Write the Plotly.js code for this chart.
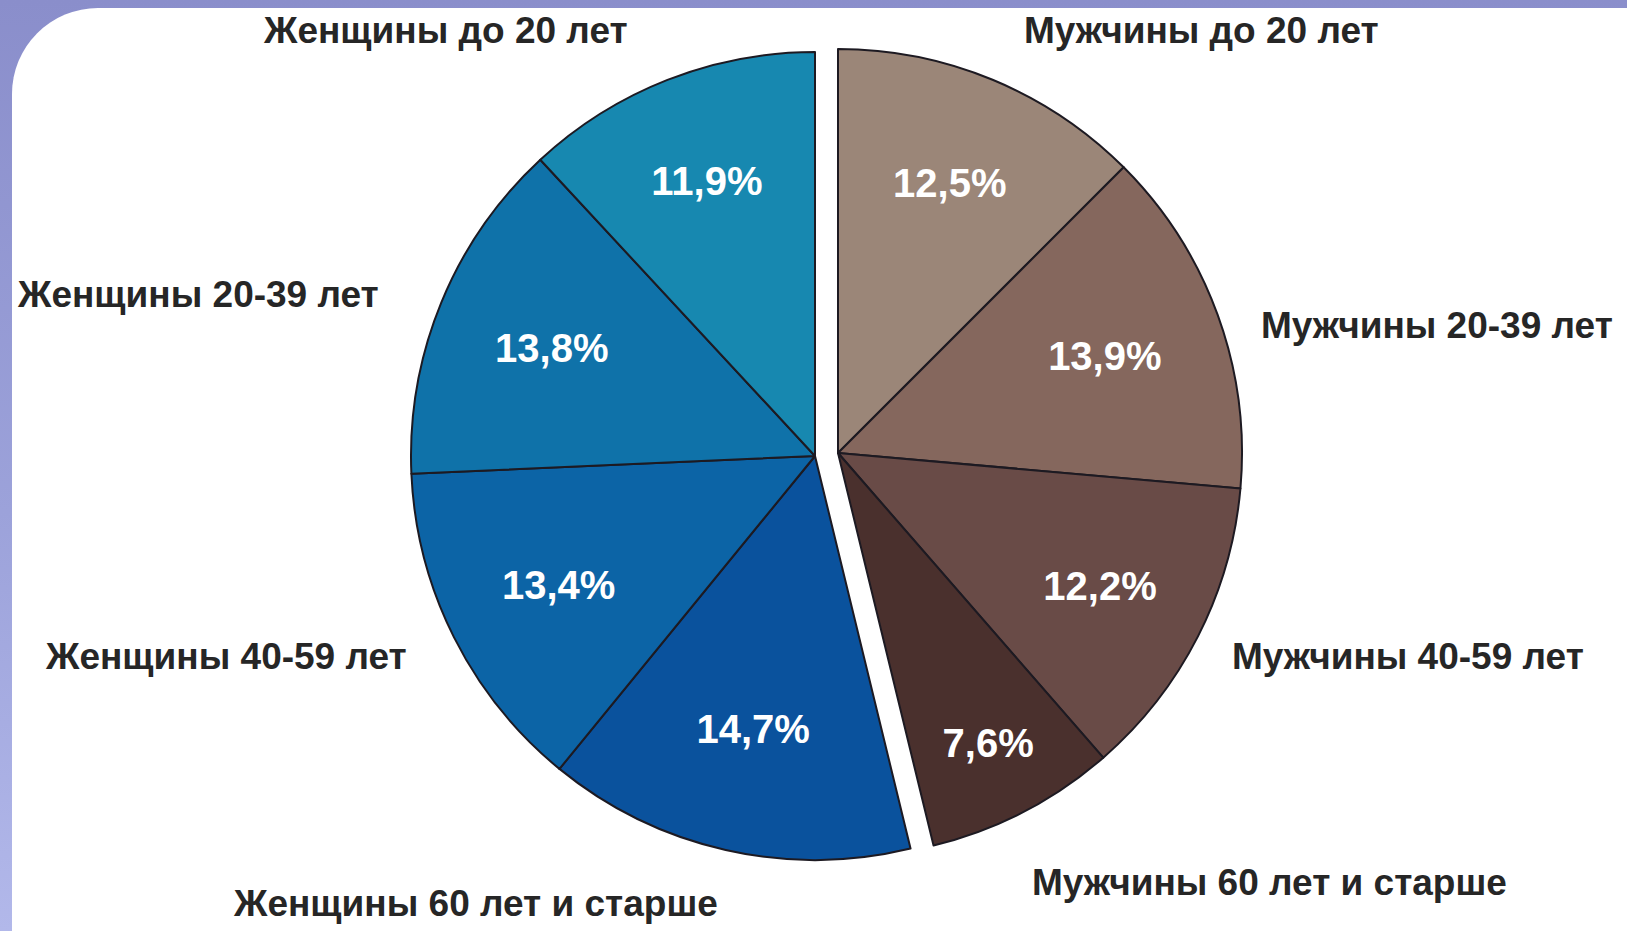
<!DOCTYPE html>
<html><head><meta charset="utf-8">
<script src="https://cdn.plot.ly/plotly-3.0.1.min.js"></script>
<style>
html,body{margin:0;padding:0;width:1627px;height:931px;overflow:hidden;}
body{background:linear-gradient(to bottom,#8A8ECB 0%,#9CA2DA 55%,#B2B8EA 100%);position:relative;}
#card{position:absolute;left:12px;top:8px;right:0;bottom:0;background:#fff;border-top-left-radius:86px;}
#chart{position:absolute;left:0;top:0;width:1627px;height:931px;}
</style></head>
<body><div id="card"></div><div id="chart"></div>
<script>
// ---- data ----
const womenLabels = ["Женщины до 20 лет", "Женщины 20-39 лет", "Женщины 40-59 лет", "Женщины 60 лет и старше"];
const womenValues = [11.9, 13.8, 13.4, 14.7];
const menLabels = ["Мужчины до 20 лет", "Мужчины 20-39 лет", "Мужчины 40-59 лет", "Мужчины 60 лет и старше"];
const menValues = [12.5, 13.9, 12.2, 7.6];

// ---- styles ----
const womenColors = ["#1788B0", "#0F72A9", "#0C64A6", "#0A529D"];
const menColors = ["#9B8678", "#85675D", "#694B47", "#4A302D"];
const womenLabelPos = [[446, 31], [198, 295], [226, 656], [475, 903]];
const menLabelPos = [[1201, 31], [1437, 325], [1408, 656], [1269, 882]];

const W = 1627, H = 931, R = 404;
function dom(cx, cy) {
  return { x: [(cx - R) / W, (cx + R) / W], y: [(H - cy - R) / H, (H - cy + R) / H] };
}
const sum = a => a.reduce((s, v) => s + v, 0);
const fmt = v => v.toFixed(1).replace('.', ',') + '%';
const rev = a => a.slice().reverse();
const clear = 'rgba(0,0,0,0)';
const lineCol = '#1d1a22';

const textfont = { family: 'Liberation Sans, Arial, sans-serif', size: 40, color: '#ffffff', weight: 'bold' };

// women drawn clockwise from 12 o'clock after an invisible placeholder for the men's share
const womenTrace = {
  type: 'pie', sort: false, direction: 'clockwise', rotation: 0,
  labels: ['__men'].concat(rev(womenLabels)),
  values: [sum(menValues)].concat(rev(womenValues)),
  text: [''].concat(rev(womenValues).map(fmt)),
  textinfo: 'text', textposition: 'inside', insidetextorientation: 'horizontal',
  textfont: textfont,
  marker: { colors: [clear].concat(rev(womenColors)), line: { color: [clear].concat(womenColors.map(() => lineCol)), width: [0].concat(womenColors.map(() => 2)) } },
  domain: dom(815, 456), hoverinfo: 'none', showlegend: false
};
const menTrace = {
  type: 'pie', sort: false, direction: 'clockwise', rotation: 0,
  labels: menLabels.concat(['__women']),
  values: menValues.concat([sum(womenValues)]),
  text: menValues.map(fmt).concat(['']),
  textinfo: 'text', textposition: 'inside', insidetextorientation: 'horizontal',
  textfont: textfont,
  marker: { colors: menColors.concat([clear]), line: { color: menColors.map(() => lineCol).concat([clear]), width: menColors.map(() => 2).concat([0]) } },
  domain: dom(838, 453), hoverinfo: 'none', showlegend: false
};

const annFont = { family: 'Liberation Sans, Arial, sans-serif', size: 37, color: '#262626', weight: 'bold' };
const annotations = [];
womenLabels.forEach((t, i) => annotations.push({ text: t, xref: 'paper', yref: 'paper', x: womenLabelPos[i][0] / W, y: 1 - womenLabelPos[i][1] / H, xanchor: 'center', yanchor: 'middle', showarrow: false, font: annFont }));
menLabels.forEach((t, i) => annotations.push({ text: t, xref: 'paper', yref: 'paper', x: menLabelPos[i][0] / W, y: 1 - menLabelPos[i][1] / H, xanchor: 'center', yanchor: 'middle', showarrow: false, font: annFont }));

const layout = {
  width: W, height: H, margin: { l: 0, r: 0, t: 0, b: 0 },
  paper_bgcolor: 'rgba(0,0,0,0)', plot_bgcolor: 'rgba(0,0,0,0)',
  separators: ', ', showlegend: false, annotations: annotations
};
Plotly.newPlot('chart', [womenTrace, menTrace], layout, { displayModeBar: false, staticPlot: true });
</script>
</body></html>
